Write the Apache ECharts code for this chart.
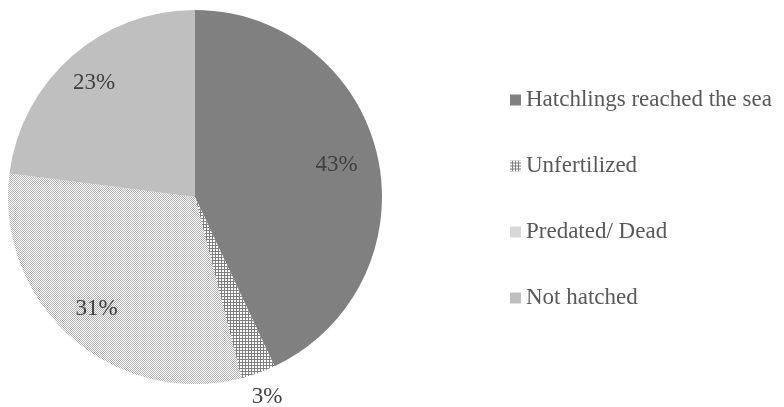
<!DOCTYPE html>
<html>
<head>
<meta charset="utf-8">
<script src="https://cdn.jsdelivr.net/npm/echarts@6/dist/echarts.min.js"></script>
<style>
html,body{margin:0;padding:0;background:#fff;}
#chart{width:784px;height:407px;}
</style>
</head>
<body>
<div id="chart"></div>
<script>
var categories = ['Hatchlings reached the sea', 'Unfertilized', 'Predated/ Dead', 'Not hatched'];
var values = [43, 3, 31, 23];

// label radial placement as fraction of radius (styling)
var labelRadiusFactor = [0.76, 1.12, 0.78, 0.8];
var R = 187;

function makePattern(size, bg, fg, cells) {
  var c = document.createElement('canvas');
  c.width = size; c.height = size;
  var ctx = c.getContext('2d');
  ctx.fillStyle = bg; ctx.fillRect(0, 0, size, size);
  ctx.fillStyle = fg;
  cells.forEach(function (p) { ctx.fillRect(p[0], p[1], p[2], p[3]); });
  return c;
}
var unfertPattern = makePattern(3, '#7f7f7f', '#ffffff', [[0, 0, 2, 2]]);
var predPattern = makePattern(2, '#ffffff', '#b0b0b0', [[0, 0, 1, 1], [1, 1, 1, 1]]);

var colors = [
  '#808080',
  { image: unfertPattern, repeat: 'repeat' },
  { image: predPattern, repeat: 'repeat' },
  '#bfbfbf'
];

var total = values.reduce(function (a, b) { return a + b; }, 0);
var mids = [];
var cum = 0;
values.forEach(function (v) { mids.push((cum + v / 2) / total * Math.PI * 2); cum += v; });

var chart = echarts.init(document.getElementById('chart'), null, { renderer: 'canvas' });
chart.setOption({
  animation: false,
  backgroundColor: '#ffffff',
  legend: {
    orient: 'vertical',
    left: 510,
    top: 88,
    padding: 0,
    itemWidth: 11,
    itemHeight: 11,
    itemGap: 42,
    icon: 'rect',
    selectedMode: false,
    textStyle: { fontFamily: 'Liberation Serif', fontSize: 23, color: '#595959', lineHeight: 24, padding: [0, 0, 0, 0] },
    data: categories
  },
  series: [{
    type: 'pie',
    center: [195, 197],
    radius: [0, R],
    startAngle: 90,
    clockwise: true,
    data: categories.map(function (n, i) {
      return { name: n, value: values[i], itemStyle: { color: colors[i] } };
    }),
    itemStyle: { borderWidth: 0 },
    label: {
      show: true,
      position: 'inside',
      formatter: '{d}%',
      fontFamily: 'Liberation Serif',
      fontSize: 23,
      color: '#404040'
    },
    labelLine: { show: false },
    labelLayout: function (params) {
      var i = params.dataIndex;
      var a = mids[i];
      var f = labelRadiusFactor[i] - 0.5;
      return { dx: Math.sin(a) * R * f, dy: -Math.cos(a) * R * f };
    },
    emphasis: { disabled: true }
  }]
});
</script>
</body>
</html>
